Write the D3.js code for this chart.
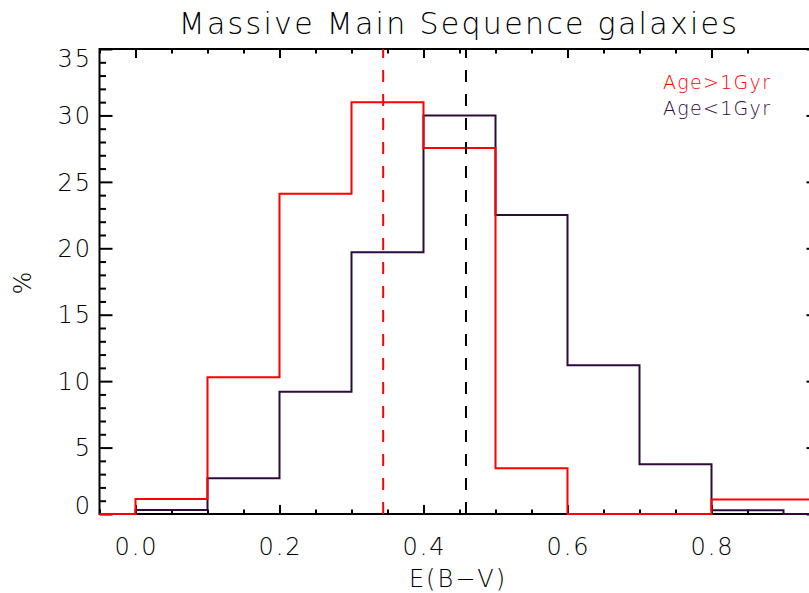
<!DOCTYPE html>
<html lang="en">
<head>
    <meta charset="UTF-8">
    <script src="https://cdn.jsdelivr.net/npm/d3@7"></script>
    <title>Massive Main Sequence galaxies</title>
    <style>
        body { margin: 0; background: white; }
        svg { display: block; }
        text { font-family: 'DejaVu Sans', sans-serif; font-weight: 200; fill: black; }
    </style>
</head>
<body>
<div id="chart"></div>
<script>
    // histogram bins (left edges) and last edge
    const binStarts = [-0.05, 0.0, 0.1, 0.2, 0.3, 0.4, 0.5, 0.6, 0.7, 0.8, 0.9];
    const binEnd = 0.95;
    const oldPct = [0, 1.13, 10.3, 24.1, 31.0, 27.55, 3.44, 0, 0, 1.1, 1.1];    // Age>1Gyr
    const youngPct = [0, 0.3, 2.69, 9.2, 19.7, 30.0, 22.5, 11.2, 3.74, 0.28, 0]; // Age<1Gyr
    const medians = [
        { name: "Age>1Gyr", value: 0.344 },
        { name: "Age<1Gyr", value: 0.459 }
    ];
    const xTicks = [0.0, 0.2, 0.4, 0.6, 0.8];
    const yTicks = [0, 5, 10, 15, 20, 25, 30, 35];

    const width = 809, height = 593;
    const plotL = 99.5, plotR = 819.5, plotT = 49, plotB = 514;
    const red = "#ff0000", purple = "#2f0a3d";

    const svg = d3.select("#chart").append("svg")
        .attr("width", width)
        .attr("height", height);

    const x = d3.scaleLinear().domain([-0.05, 0.95]).range([plotL, plotR]);
    const y = d3.scaleLinear().domain([0, 35]).range([plotB, plotT]);

    // axes box with ticks on all four sides
    const xMinor = d3.range(0, 19).map(i => -0.05 + i * 0.05).filter(v => !xTicks.some(t => Math.abs(t - v) < 1e-6));
    const yMinor = d3.range(1, 35).filter(v => v % 5 !== 0);

    function tickAxis(axisFn, scale, vals, len, pos) {
        const g = svg.append("g").attr("transform", pos)
            .call(axisFn(scale).tickValues(vals).tickSize(len).tickFormat(""));
        g.select(".domain").remove();
        g.selectAll("line").attr("stroke", "black").attr("stroke-width", 2);
        return g;
    }
    tickAxis(d3.axisTop, x, xTicks, 9, `translate(0,${plotB})`);
    tickAxis(d3.axisTop, x, xMinor, 4.5, `translate(0,${plotB})`);
    tickAxis(d3.axisBottom, x, xTicks, 9, `translate(0,${plotT})`);
    tickAxis(d3.axisBottom, x, xMinor, 4.5, `translate(0,${plotT})`);
    tickAxis(d3.axisRight, y, yTicks, 13, `translate(${plotL},0)`);
    tickAxis(d3.axisRight, y, yMinor, 6.5, `translate(${plotL},0)`);
    tickAxis(d3.axisLeft, y, yTicks, 13, `translate(${plotR},0)`);
    tickAxis(d3.axisLeft, y, yMinor, 6.5, `translate(${plotR},0)`);

    svg.append("rect")
        .attr("x", plotL).attr("y", plotT)
        .attr("width", plotR - plotL).attr("height", plotB - plotT)
        .attr("fill", "none").attr("stroke", "black").attr("stroke-width", 2);

    // tick labels
    svg.selectAll(".xlab").data(xTicks).enter().append("text")
        .attr("x", d => x(d) + 1)
        .attr("y", 555)
        .attr("text-anchor", "middle")
        .attr("font-size", 24)
        .attr("letter-spacing", 2)
        .text(d => d.toFixed(1));

    // end labels are kept inside the axis range
    const capH = 17.5;
    svg.selectAll(".ylab").data(yTicks).enter().append("text")
        .attr("x", 92)
        .attr("y", d => Math.max(plotT + capH, Math.min(plotB, y(d) + capH / 2)))
        .attr("text-anchor", "end")
        .attr("font-size", 24)
        .attr("letter-spacing", 2)
        .text(d => d);

    // titles
    svg.append("text")
        .attr("x", 459).attr("y", 34)
        .attr("text-anchor", "middle")
        .attr("font-size", 30)
        .attr("letter-spacing", 2.3)
        .text("Massive Main Sequence galaxies");

    svg.append("text")
        .attr("x", 458).attr("y", 587)
        .attr("text-anchor", "middle")
        .attr("font-size", 24)
        .attr("letter-spacing", 2)
        .text("E(B\u2212V)");

    svg.append("text")
        .attr("transform", "translate(31,283) rotate(-90)")
        .attr("text-anchor", "middle")
        .attr("font-size", 24)
        .text("%");

    // histograms
    const step = d3.line()
        .x(d => x(d[0]))
        .y(d => y(d[1]))
        .curve(d3.curveStepAfter);

    function histPoints(vals) {
        const pts = binStarts.map((b, i) => [b, vals[i]]);
        pts.push([binEnd, vals[vals.length - 1]]);
        return pts;
    }

    svg.append("path")
        .datum(histPoints(youngPct))
        .attr("fill", "none")
        .attr("stroke", purple)
        .attr("stroke-width", 2)
        .attr("d", step);

    svg.append("path")
        .datum(histPoints(oldPct))
        .attr("fill", "none")
        .attr("stroke", red)
        .attr("stroke-width", 2)
        .attr("d", step);

    // median lines
    svg.selectAll(".median").data(medians).enter().append("line")
        .attr("x1", d => x(d.value)).attr("x2", d => x(d.value))
        .attr("y1", plotB).attr("y2", plotT)
        .attr("stroke", (d, i) => i === 0 ? red : "black")
        .attr("stroke-width", 2)
        .attr("stroke-dasharray", "12,12");

    // legend
    svg.selectAll(".legend").data(medians).enter().append("text")
        .attr("x", 663)
        .attr("y", (d, i) => 89 + i * 26)
        .attr("font-size", 19)
        .attr("letter-spacing", 1.3)
        .style("fill", (d, i) => i === 0 ? red : purple)
        .text(d => d.name);
</script>
</body>
</html>
